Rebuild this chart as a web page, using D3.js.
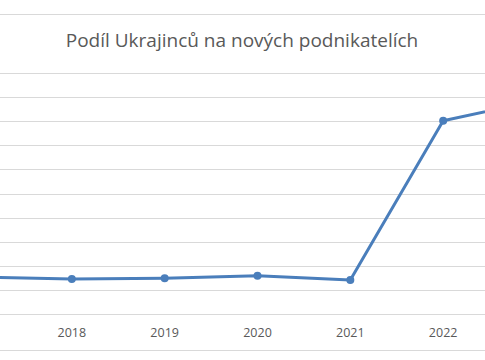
<!DOCTYPE html>
<html>
<head>
<meta charset="utf-8">
<script src="https://cdn.jsdelivr.net/npm/d3@7"></script>
<style>
  body { margin: 0; background: #fff; }
  svg { display: block; font-family: "Open Sans", sans-serif; }
</style>
</head>
<body>
<div id="chart"></div>
<script>
// chart is cropped: y labels cut off on the left, 2023 point off the right edge
let years = [2017, 2018, 2019, 2020, 2021, 2022, 2023];
let shares = [1.53, 1.45, 1.48, 1.59, 1.41, 8.02, 8.85];
let shownYears = [2018, 2019, 2020, 2021, 2022];
let gridTicks = d3.range(0, 11, 1);

let width = 485;
let height = 360;

let svg = d3.select('#chart')
  .append("svg")
  .attr("width", width)
  .attr("height", height);

// chart frame lines (top and bottom)
svg.append("line")
  .attr("x1", 0).attr("x2", width)
  .attr("y1", 14.5).attr("y2", 14.5)
  .style("stroke", "#d9d9d9");
svg.append("line")
  .attr("x1", 0).attr("x2", width)
  .attr("y1", 350.5).attr("y2", 350.5)
  .style("stroke", "#d9d9d9");

let x = d3.scalePoint()
  .domain(years)
  .range([-21, 536]);

let y = d3.scaleLinear()
  .domain([0, 10])
  .range([314, 73]);

// gridlines
svg.append("g")
  .selectAll("line")
  .data(gridTicks)
  .enter()
  .append("line")
  .attr("x1", 0)
  .attr("x2", width)
  .attr("y1", d => Math.round(y(d)) + 0.5)
  .attr("y2", d => Math.round(y(d)) + 0.5)
  .style("stroke", "#d9d9d9")
  .style("stroke-width", 1);

// x tick labels (only the ones inside the crop)
svg.append("g")
  .selectAll("text")
  .data(shownYears)
  .enter()
  .append("text")
  .attr("x", d => x(d))
  .attr("y", 337)
  .style("text-anchor", "middle")
  .style("font-size", "12.5px")
  .style("fill", "#595959")
  .text(d => d);

// title
svg.append("text")
  .attr("x", 242)
  .attr("y", 47)
  .style("text-anchor", "middle")
  .style("font-size", "19px")
  .style("fill", "#595959")
  .text("Podíl Ukrajinců na nových podnikatelích");

let line = d3.line()
  .x((d, i) => x(years[i]))
  .y(d => y(d));

svg.append("path")
  .datum(shares)
  .attr("d", line)
  .style("fill", "none")
  .style("stroke", "#4a7ebb")
  .style("stroke-width", 3)
  .style("stroke-linejoin", "round");

svg.append("g")
  .selectAll("circle")
  .data(shares)
  .enter()
  .append("circle")
  .attr("cx", (d, i) => x(years[i]))
  .attr("cy", d => y(d))
  .attr("r", 4)
  .style("fill", "#4a7ebb");
</script>
</body>
</html>
